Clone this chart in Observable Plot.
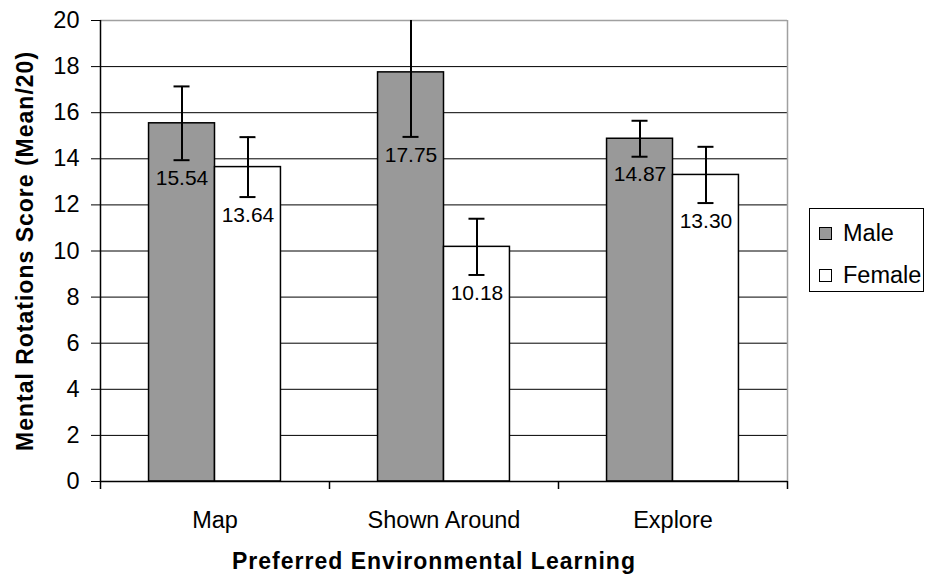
<!DOCTYPE html>
<html>
<head>
<meta charset="utf-8">
<script src="https://cdn.jsdelivr.net/npm/d3@7"></script>
<script src="https://cdn.jsdelivr.net/npm/@observablehq/plot@0.6"></script>
<style>
  html, body { margin: 0; padding: 0; background: #fff; }
  #wrap { position: relative; width: 928px; height: 580px; font-family: "Liberation Sans", Arial, sans-serif; }
  #legend { position: absolute; left: 809px; top: 208px; width: 115px; height: 84px; border: 1px solid #000; background: #fff; box-sizing: border-box; }
  .item { position: absolute; left: 0; font-size: 23.5px; line-height: 24px; color: #000; white-space: nowrap; }
  .sw { position: absolute; left: 9px; width: 13px; height: 13px; border: 1.5px solid #000; box-sizing: border-box; }
  .lab { position: absolute; left: 33px; }
  .titleText { letter-spacing: 1px; }
</style>
</head>
<body>
<div id="wrap"></div>
<script>
// ---- data ----
const categories = ["Map", "Shown Around", "Explore"];
const series = ["Male", "Female"];
const maleMeans = [15.54, 17.75, 14.87];
const femaleMeans = [13.64, 10.18, 13.30];
const maleErrors = [1.60, 2.80, 0.78];
const femaleErrors = [1.30, 1.22, 1.22];
const yTicks = [0, 2, 4, 6, 8, 10, 12, 14, 16, 18, 20];
const seriesColors = ["#999999", "#ffffff"];
const xTitle = "Preferred Environmental Learning";
const yTitle = "Mental Rotations Score (Mean/20)";

const male = categories.map((c, i) => ({category: c, sex: "Male", mean: maleMeans[i], err: maleErrors[i]}));
const female = categories.map((c, i) => ({category: c, sex: "Female", mean: femaleMeans[i], err: femaleErrors[i]}));

// ---- layout ----
const W = 928, H = 580, ML = 100, MR = 141, MT = 20, MB = 99;
const bw = (W - ML - MR) / categories.length;   // band width
const barW = bw * 0.288;                         // each bar
const capW = 16;
const font = "Liberation Sans, Arial, sans-serif";

const mCenter = bw / 2 - barW / 2;   // male bar centre from band start
const fCenter = bw / 2 + barW / 2;   // female bar centre from band start

function errMarks(data, center, dx) {
  const caps = data.flatMap(d => [{category: d.category, v: d.mean + d.err}, {category: d.category, v: d.mean - d.err}]);
  return [
    Plot.ruleX(data, {x: "category", y1: d => d.mean - d.err, y2: d => d.mean + d.err, dx, stroke: "#000", strokeWidth: 2, clip: true}),
    Plot.tickY(caps, {x: "category", y: "v", insetLeft: center - capW / 2, insetRight: bw - center - capW / 2, stroke: "#000", strokeWidth: 2, clip: true})
  ];
}

const chart = Plot.plot({
  width: W, height: H,
  marginLeft: ML, marginRight: MR, marginTop: MT, marginBottom: MB,
  style: {fontFamily: font, background: "#fff", color: "#000", overflow: "visible"},
  x: {domain: categories, padding: 0, axis: null},
  y: {domain: [0, 20], axis: null},
  marks: [
    // gridlines
    Plot.ruleY(yTicks.filter(t => t > 0 && t < 20), {stroke: "#000", strokeWidth: 1}),
    // plot area border (top/right)
    Plot.ruleY([20], {stroke: "#a0a0a0", strokeWidth: 1.5}),
    Plot.ruleX([categories[categories.length - 1]], {dx: bw / 2, stroke: "#a0a0a0", strokeWidth: 1.5}),
    // bars
    Plot.barY(male, {x: "category", y: "mean", fill: seriesColors[0], stroke: "#000", strokeWidth: 1.5, insetLeft: bw / 2 - barW, insetRight: bw / 2}),
    Plot.barY(female, {x: "category", y: "mean", fill: seriesColors[1], stroke: "#000", strokeWidth: 1.5, insetLeft: bw / 2, insetRight: bw / 2 - barW}),
    // error bars
    ...errMarks(male, mCenter, -barW / 2),
    ...errMarks(female, fCenter, barW / 2),
    // value labels
    Plot.text(male, {x: "category", y: d => d.mean - d.err, dx: -barW / 2, dy: 18, text: d => d.mean.toFixed(2), fontSize: 21, fill: "#000"}),
    Plot.text(female, {x: "category", y: d => d.mean - d.err, dx: barW / 2, dy: 18, text: d => d.mean.toFixed(2), fontSize: 21, fill: "#000"}),
    // axes lines
    Plot.ruleY([0], {stroke: "#000", strokeWidth: 1.5}),
    Plot.ruleX([categories[0]], {dx: -bw / 2, stroke: "#000", strokeWidth: 1.5}),
    // y axis ticks + labels
    Plot.axisY(yTicks, {tickSize: 9, tickPadding: 12, fontSize: 23.5, label: null, stroke: "#000", color: "#000"}),
    // x boundary ticks
    Plot.ruleX(categories, {dx: -bw / 2, insetTop: H - MT - MB, insetBottom: -8, stroke: "#000", strokeWidth: 1.5}),
    Plot.ruleX([categories[categories.length - 1]], {dx: bw / 2, insetTop: H - MT - MB, insetBottom: -8, stroke: "#000", strokeWidth: 1.5}),
    // x category labels
    Plot.axisX({tickSize: 0, tickPadding: 30, fontSize: 23.5, label: null}),
    // axis titles
    Plot.text([xTitle], {frameAnchor: "bottom", dy: 87, dx: -10, text: d => d, textAnchor: "middle", fontSize: 23, fontWeight: "bold", fill: "#000", className: "titleText"}),
    Plot.text([yTitle], {frameAnchor: "left", dx: -75, rotate: -90, text: d => d, textAnchor: "middle", fontSize: 23, fontWeight: "bold", fill: "#000", className: "titleText"})
  ]
});

const wrap = document.getElementById("wrap");
wrap.appendChild(chart);

// legend
const legend = document.createElement("div");
legend.id = "legend";
const tops = [12, 54];
series.forEach((s, i) => {
  const item = document.createElement("div");
  item.className = "item";
  item.style.top = tops[i] + "px";
  const sw = document.createElement("span");
  sw.className = "sw";
  sw.style.background = seriesColors[i];
  sw.style.top = "6px";
  const lab = document.createElement("span");
  lab.className = "lab";
  lab.textContent = s;
  item.appendChild(sw);
  item.appendChild(lab);
  legend.appendChild(item);
});
wrap.appendChild(legend);
</script>
</body>
</html>
